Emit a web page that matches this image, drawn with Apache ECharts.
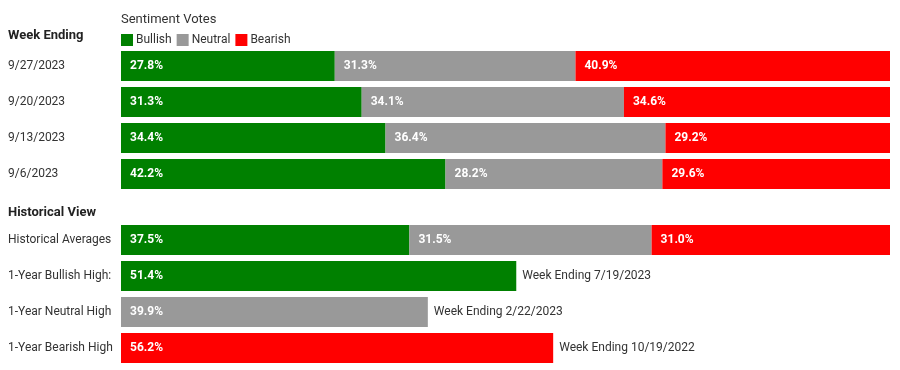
<!DOCTYPE html>
<html><head><meta charset="utf-8">
<script src="https://cdn.jsdelivr.net/npm/echarts@6/dist/echarts.min.js"></script>
<style>html,body{margin:0;padding:0;background:#fff}#c{width:900px;height:370px}</style>
</head><body><div id="c"></div>
<script>
const weeks = ['9/27/2023','9/20/2023','9/13/2023','9/6/2023'];
const bullish = [27.8, 31.3, 34.4, 42.2];
const neutral = [31.3, 34.1, 36.4, 28.2];
const bearish = [40.9, 34.6, 29.2, 29.6];

const histCats = ['Historical Averages','1-Year Bullish High:','1-Year Neutral High','1-Year Bearish High'];
const histBullish = [37.5, 51.4, '-', '-'];
const histNeutral = [31.5, '-', 39.9, '-'];
const histBearish = [31.0, '-', '-', 56.2];
const histHighs = ['-', 51.4, 39.9, 56.2];
const histNotes = ['', 'Week Ending 7/19/2023', 'Week Ending 2/22/2023', 'Week Ending 10/19/2022'];

const FONT = 'Roboto';
const colors = {Bullish:'#008000', Neutral:'#999999', Bearish:'#ff0000'};
const inLabel = {show:true, position:'insideLeft', distance:9, color:'#fff', fontWeight:'bold', fontSize:12, fontFamily:FONT,
  formatter: p => Number(p.value).toFixed(1) + '%'};

function stackSeries(name, data, idx){
  return {name, type:'bar', stack:'s'+idx, xAxisIndex:idx, yAxisIndex:idx, data, barWidth:30,
    itemStyle:{color:colors[name]}, label:inLabel, emphasis:{disabled:true}};
}

const chart = echarts.init(document.getElementById('c'), null, {renderer:'canvas'});
const yAx = (cats, idx) => ({type:'category', gridIndex:idx, data:cats, inverse:true,
  axisLine:{show:false}, axisTick:{show:false},
  axisLabel:{align:'left', margin:113, color:'#333', fontSize:12, fontFamily:FONT}});
const xAx = idx => ({type:'value', gridIndex:idx, min:0, max:100, show:false});

chart.setOption({
  animation:false,
  textStyle:{fontFamily:FONT},
  title:[
    {text:'Sentiment Votes', left:121, top:13, padding:0, textStyle:{fontSize:13, fontWeight:'normal', color:'#333', fontFamily:FONT}},
    {text:'Week Ending', left:8, top:29, padding:0, textStyle:{fontSize:13, fontWeight:'bold', color:'#222', fontFamily:FONT}},
    {text:'Historical View', left:8, top:206, padding:0, textStyle:{fontSize:13, fontWeight:'bold', color:'#222', fontFamily:FONT}}
  ],
  legend:{data:['Bullish','Neutral','Bearish'], left:121, top:34, padding:0, icon:'rect', itemWidth:12, itemHeight:12, itemGap:5,
    textStyle:{fontSize:12, color:'#333', fontFamily:FONT, padding:[0,0,0,-2]}, selectedMode:false},
  grid:[
    {left:121, right:10, top:48, height:144},
    {left:121, right:10, top:222, height:144}
  ],
  xAxis:[xAx(0), xAx(1)],
  yAxis:[yAx(weeks,0), yAx(histCats,1)],
  series:[
    stackSeries('Bullish', bullish, 0),
    stackSeries('Neutral', neutral, 0),
    stackSeries('Bearish', bearish, 0),
    stackSeries('Bullish', histBullish, 1),
    stackSeries('Neutral', histNeutral, 1),
    stackSeries('Bearish', histBearish, 1),
    {name:'notes', type:'bar', xAxisIndex:1, yAxisIndex:1, data:histHighs, barWidth:30, barGap:'-100%',
      itemStyle:{color:'rgba(0,0,0,0)'}, silent:true, z:1,
      label:{show:true, position:'right', distance:6, color:'#333', fontSize:12, fontFamily:FONT,
        formatter: p => histNotes[p.dataIndex]}}
  ]
});
</script></body></html>
